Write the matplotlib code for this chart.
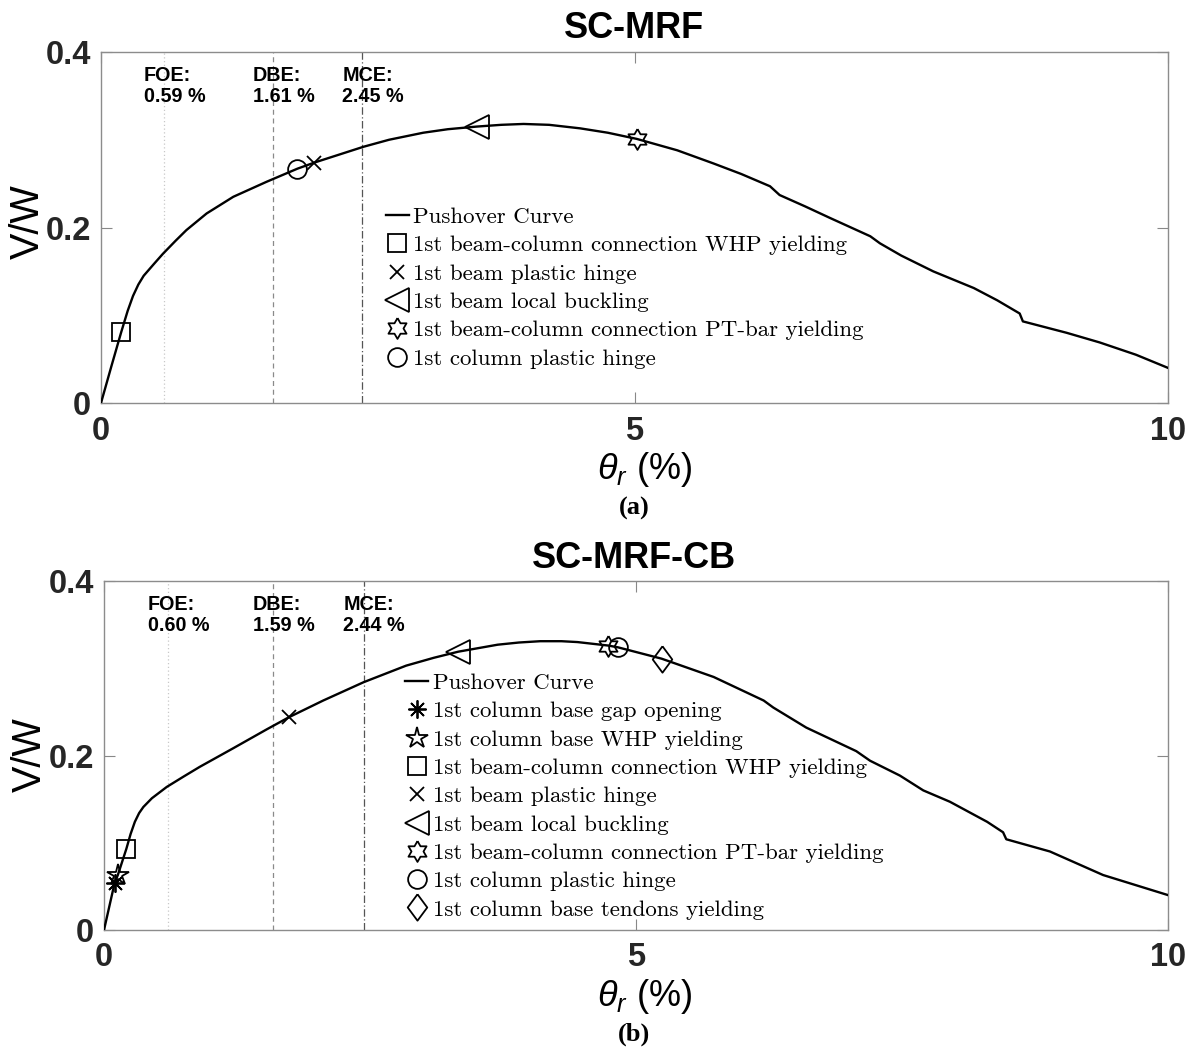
import matplotlib
matplotlib.use("Agg")
import matplotlib.pyplot as plt
import numpy as np

plt.rcParams["mathtext.fontset"] = "custom"
plt.rcParams["mathtext.it"] = "Liberation Sans:italic"
plt.rcParams["mathtext.rm"] = "Liberation Sans"
plt.rcParams["mathtext.bf"] = "Liberation Sans:bold"

# ---------------- data ----------------
# SC-MRF pushover curve: roof drift (%) vs base shear ratio V/W
mrf_drift = [0, 0.10, 0.19, 0.25, 0.30, 0.35, 0.40, 0.50, 0.58, 0.70, 0.80, 0.99,
             1.24, 1.55, 1.84, 2.00, 2.46, 2.70, 3.02, 3.25, 3.52, 3.75, 3.96,
             4.20, 4.49, 4.75, 5.02, 5.40, 5.74, 6.00, 6.27, 6.36, 6.60, 6.83,
             7.21, 7.30, 7.50, 7.80, 8.18, 8.40, 8.61, 8.64, 9.05, 9.36, 9.70,
             10.0]
mrf_vw = [0, 0.043, 0.081, 0.105, 0.122, 0.135, 0.145, 0.159, 0.170, 0.185, 0.197,
          0.216, 0.235, 0.252, 0.267, 0.274, 0.292, 0.300, 0.308, 0.312, 0.315,
          0.317, 0.318, 0.317, 0.313, 0.308, 0.301, 0.288, 0.273, 0.261, 0.247,
          0.237, 0.224, 0.211, 0.190, 0.182, 0.168, 0.150, 0.131, 0.117, 0.102,
          0.093, 0.080, 0.069, 0.055, 0.040]

# SC-MRF-CB pushover curve
cb_drift = [0, 0.10, 0.13, 0.21, 0.25, 0.29, 0.33, 0.37, 0.45, 0.59, 0.75, 0.90,
            1.21, 1.53, 1.74, 2.06, 2.44, 2.84, 3.10, 3.33, 3.70, 3.90, 4.10,
            4.30, 4.45, 4.74, 4.83, 5.24, 5.73, 6.20, 6.29, 6.60, 7.07, 7.20,
            7.48, 7.70, 7.95, 8.30, 8.45, 8.48, 8.89, 9.39, 10.0]
cb_vw = [0, 0.054, 0.063, 0.093, 0.110, 0.124, 0.134, 0.141, 0.151, 0.164, 0.176,
         0.187, 0.208, 0.230, 0.244, 0.263, 0.284, 0.303, 0.312, 0.319, 0.327,
         0.3295, 0.331, 0.331, 0.330, 0.326, 0.324, 0.311, 0.290, 0.263, 0.255,
         0.232, 0.205, 0.194, 0.177, 0.160, 0.147, 0.124, 0.112, 0.104, 0.090,
         0.063, 0.040]

# limit-state events (drift %, V/W)
mrf_events = {
    "whp": (0.19, 0.081),
    "beam_hinge": (2.00, 0.274),
    "local_buckling": (3.52, 0.315),
    "ptbar": (5.02, 0.301),
    "col_hinge": (1.84, 0.267),
}
cb_events = {
    "gap": (0.10, 0.054),
    "base_whp": (0.13, 0.063),
    "whp": (0.21, 0.093),
    "beam_hinge": (1.74, 0.244),
    "local_buckling": (3.33, 0.319),
    "ptbar": (4.74, 0.326),
    "col_hinge": (4.83, 0.324),
    "tendons": (5.24, 0.311),
}

# seismic hazard level drifts (%)
hazard_names = ["FOE", "DBE", "MCE"]
mrf_hazard = [0.59, 1.61, 2.45]
cb_hazard = [0.60, 1.59, 2.44]

x_ticks = [0, 5, 10]
y_ticks = [0, 0.2, 0.4]
y_ticklabels = ["0", "0.2", "0.4"]

# ---------------- styles ----------------
ang_out = np.deg2rad(90 + 60 * np.arange(6))
ang_in = ang_out + np.deg2rad(30)
hexagram = []
for a, b in zip(ang_out, ang_in):
    hexagram.append((np.cos(a), np.sin(a)))
    hexagram.append((np.cos(b) / np.sqrt(3), np.sin(b) / np.sqrt(3)))
hexagram.append(hexagram[0])
tall_diamond = [(0, 1), (0.74, 0), (0, -1), (-0.74, 0), (0, 1)]

marker_style = {
    "gap": dict(marker=(8, 2, 0), ms=13),
    "base_whp": dict(marker="*", ms=16),
    "whp": dict(marker="s", ms=12.5),
    "beam_hinge": dict(marker="x", ms=10),
    "local_buckling": dict(marker="<", ms=17),
    "ptbar": dict(marker=hexagram, ms=15),
    "col_hinge": dict(marker="o", ms=13.5),
    "tendons": dict(marker=tall_diamond, ms=19),
}
labels = {
    "gap": "1st column base gap opening",
    "base_whp": "1st column base WHP yielding",
    "whp": "1st beam-column connection WHP yielding",
    "beam_hinge": "1st beam plastic hinge",
    "local_buckling": "1st beam local buckling",
    "ptbar": "1st beam-column connection PT-bar yielding",
    "col_hinge": "1st column plastic hinge",
    "tendons": "1st column base tendons yielding",
}
hazard_ls = [(0, (1, 2)), (0, (4, 3)), (0, (6, 2, 1, 2))]
hazard_col = ["#c8c8c8", "#8a8a8a", "#555555"]

W, H = 1195, 1052
fig = plt.figure(figsize=(W / 100, H / 100), dpi=100)


def px_box(l, t, r, b):
    return [l / W, 1 - b / H, (r - l) / W, (b - t) / H]


def panel(rect, drift, vw, events, hazard, title, tag, leg_anchor, title_y, xlab_y,
          tag_y, ylab_x, ylab_y):
    ax = fig.add_axes(rect)
    line, = ax.plot(drift, vw, color="black", lw=1.7, label="Pushover Curve", zorder=3)
    handles = [line]
    for key, (ex, ey) in events.items():
        st = marker_style[key]
        h, = ax.plot([ex], [ey], linestyle="none", marker=st["marker"], ms=st["ms"],
                     mfc="none", mec="black", mew=1.3, label=labels[key], zorder=4)
        handles.append(h)
    for name, val, ls, c in zip(hazard_names, hazard, hazard_ls, hazard_col):
        ax.axvline(val, color=c, lw=0.9, linestyle=ls, zorder=1)
        ax.text(val - 0.19, 0.384, f"{name}:\n{val:.2f} %", fontsize=14.2,
                fontweight="bold", family="Liberation Sans", va="top", ha="left",
                linespacing=1.12)
    ax.set_xlim(0, 10)
    ax.set_ylim(0, 0.4)
    ax.set_xticks(x_ticks)
    ax.set_xticklabels([str(v) for v in x_ticks])
    ax.set_yticks(y_ticks)
    ax.set_yticklabels(y_ticklabels)
    for lab in ax.get_xticklabels() + ax.get_yticklabels():
        lab.set_fontfamily("Liberation Sans")
        lab.set_fontweight("bold")
        lab.set_fontsize(23.5)
        lab.set_color("#262626")
    ax.tick_params(direction="in", top=True, right=True, length=8, width=0.8,
                   color="#888888")
    ax.tick_params(axis="x", pad=9)
    ax.tick_params(axis="y", pad=7)
    for s in ax.spines.values():
        s.set_color("#8c8c8c")
        s.set_linewidth(1.0)
    ax.legend(handles=handles, loc="upper left", bbox_to_anchor=leg_anchor,
              frameon=False, prop={"family": "cmr10", "size": 16.5},
              handlelength=1.0, handletextpad=0.2, labelspacing=0.36,
              borderpad=0, borderaxespad=0, numpoints=1)
    fig.text(634 / W, 1 - title_y / H, title, ha="center", va="center",
             fontsize=26, fontweight="bold", family="Liberation Sans")
    fig.text(645 / W, 1 - xlab_y / H, r"$\theta_r$ (%)", ha="center", va="center",
             fontsize=26, family="Liberation Sans")
    fig.text(ylab_x / W, 1 - ylab_y / H, "V/W", rotation=90, ha="center",
             va="center", fontsize=28.5, family="Liberation Sans")
    fig.text(634 / W, 1 - tag_y / H, tag, ha="center", va="center", fontsize=19,
             fontweight="bold", family="Liberation Serif")
    return ax


panel(px_box(101, 52, 1168, 403), mrf_drift, mrf_vw, mrf_events, mrf_hazard,
      "SC-MRF", "(a)", (0.267, 0.558), 28, 469, 508, 28, 222)
panel(px_box(104, 581, 1168, 930), cb_drift, cb_vw, cb_events, cb_hazard,
      "SC-MRF-CB", "(b)", (0.283, 0.736), 559, 996, 1034, 30, 755)

fig.savefig("out.png", dpi=100)
